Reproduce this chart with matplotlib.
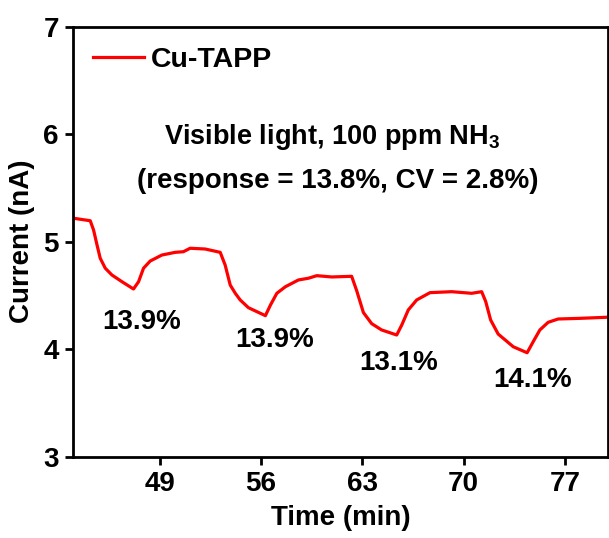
import matplotlib
matplotlib.use('Agg')
import matplotlib.pyplot as plt

plt.rcParams['font.family'] = 'Liberation Sans'
plt.rcParams['font.weight'] = 'bold'
plt.rcParams['mathtext.fontset'] = 'custom'
plt.rcParams['mathtext.bf'] = 'Liberation Sans:bold'
plt.rcParams['mathtext.rm'] = 'Liberation Sans:bold'
plt.rcParams['mathtext.default'] = 'bf'

# time (min) and current (nA)
time = [43.06, 44.21, 44.44, 44.68, 44.90, 45.25, 45.71, 46.40, 47.20, 47.55, 47.89, 48.35,
        49.16, 50.08, 50.65, 51.11, 52.15, 53.19, 53.53, 53.88, 54.23, 54.57, 55.14, 56.31,
        56.66, 57.10, 57.69, 58.59, 59.28, 59.86, 60.89, 62.27, 62.62, 63.08, 63.65, 64.34,
        65.03, 65.38, 65.73, 66.18, 66.76, 67.68, 69.18, 70.56, 71.25, 71.53, 71.87, 72.39,
        73.43, 74.39, 74.81, 75.27, 75.84, 76.53, 78.03, 79.87, 80.0]
current = [5.218, 5.195, 5.109, 4.969, 4.846, 4.753, 4.690, 4.628, 4.560, 4.628, 4.753, 4.820,
           4.876, 4.901, 4.907, 4.939, 4.932, 4.901, 4.783, 4.597, 4.520, 4.458, 4.386, 4.312,
           4.411, 4.520, 4.581, 4.644, 4.660, 4.684, 4.672, 4.678, 4.543, 4.341, 4.238, 4.179,
           4.148, 4.132, 4.225, 4.365, 4.458, 4.526, 4.535, 4.520, 4.535, 4.443, 4.272, 4.141,
           4.023, 3.967, 4.070, 4.179, 4.250, 4.281, 4.287, 4.297, 4.298]

resp_labels = ['13.9%', '13.9%', '13.1%', '14.1%']
resp_x = [47.78, 56.98, 65.49, 74.77]
resp_y = [4.256, 4.086, 3.869, 3.711]

xticks = [49, 56, 63, 70, 77]
yticks = [3, 4, 5, 6, 7]

fig = plt.figure(figsize=(6.09, 5.38), dpi=100)
ax = fig.add_axes([0.1194, 0.1511, 0.8795, 0.7993])

ax.plot(time, current, color='red', lw=2.3, label='Cu-TAPP')

for lab, x, y in zip(resp_labels, resp_x, resp_y):
    ax.text(x, y, lab, fontsize=20, ha='center', va='center')

ax.text(60.95, 5.974, 'Visible light, 100 ppm NH$_3$', fontsize=19.5, ha='center', va='center')
ax.text(61.33, 5.563, '(response = 13.8%, CV = 2.8%)', fontsize=20, ha='center', va='center')

ax.set_xlim(43, 80)
ax.set_ylim(3, 7)
ax.set_xticks(xticks)
ax.set_yticks(yticks)
ax.tick_params(labelsize=20, width=2, length=6, direction='out', pad=4)
for s in ax.spines.values():
    s.set_linewidth(2)

ax.set_xlabel('Time (min)', fontsize=20, fontweight='bold', labelpad=6)
ax.set_ylabel('Current (nA)', fontsize=20, fontweight='bold', labelpad=6)

ax.legend(loc='upper left', bbox_to_anchor=(0, 1), frameon=False, fontsize=20.5,
          handlelength=1.8, handletextpad=0.25, borderaxespad=0.3)

fig.savefig('out.png', dpi=100)
